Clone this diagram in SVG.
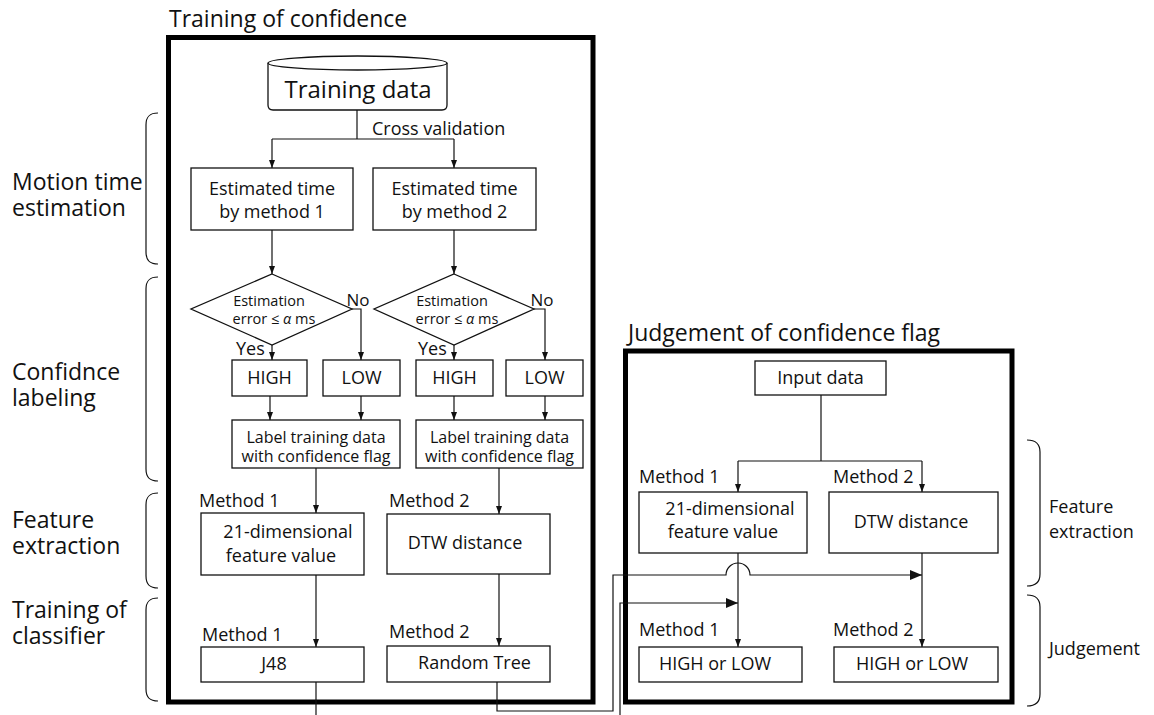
<svg xmlns="http://www.w3.org/2000/svg" width="1154" height="715" viewBox="0 0 1154 715">
<defs>
<style>
text{font-family:"Open Sans","Noto Sans","DejaVu Sans",sans-serif;fill:#111}
.t23{font-size:23px}
.t18{font-size:18px}
.t16{font-size:16px}
.t14{font-size:14.5px}
.c{text-anchor:middle}
.box{fill:#fff;stroke:#111;stroke-width:1.3}
.frame{fill:none;stroke:#000;stroke-width:5}
.ln{fill:none;stroke:#111;stroke-width:1.2}
.br{fill:none;stroke:#111;stroke-width:1.2}
</style>
<marker id="ah" viewBox="0 0 8 6" refX="8" refY="3" markerWidth="8" markerHeight="6" markerUnits="userSpaceOnUse" orient="auto">
<path d="M0,0 L8,3 L0,6 Z" fill="#111"/>
</marker>
<marker id="ahb" viewBox="0 0 12 10" refX="12" refY="5" markerWidth="12" markerHeight="10" markerUnits="userSpaceOnUse" orient="auto">
<path d="M0,0 L12,5 L0,10 Z" fill="#111"/>
</marker>
</defs>
<rect width="1154" height="715" fill="#fff"/>

<!-- Frames and titles -->
<g id="training-frame">
<text class="t23" x="169" y="27">Training of confidence</text>
<rect class="frame" x="168.5" y="37.5" width="424.5" height="664.5"/>
</g>
<g id="judgement-frame">
<text class="t23" x="628" y="341">Judgement of confidence flag</text>
<rect class="frame" x="625.5" y="351" width="386.5" height="351"/>
</g>

<!-- Left side stage labels -->
<g id="stage-motion">
<path class="br" d="M158,113 C150,113 146,116 146,125 L146,252 C146,261 150,264 158,264"/>
<text class="t23" x="12" y="190">Motion time</text>
<text class="t23" x="12" y="216">estimation</text>
</g>
<g id="stage-labeling">
<path class="br" d="M158,277 C150,277 146,280 146,289 L146,469 C146,478 150,481 158,481"/>
<text class="t23" x="12" y="380">Confidnce</text>
<text class="t23" x="12" y="406">labeling</text>
</g>
<g id="stage-feature">
<path class="br" d="M158,493 C150,493 146,496 146,505 L146,576 C146,585 150,588 158,588"/>
<text class="t23" x="12" y="528">Feature</text>
<text class="t23" x="12" y="554">extraction</text>
</g>
<g id="stage-classifier">
<path class="br" d="M158,598 C150,598 146,601 146,610 L146,689 C146,698 150,701 158,701"/>
<text class="t23" x="12" y="618">Training of</text>
<text class="t23" x="12" y="644">classifier</text>
</g>

<!-- Right side stage labels -->
<g id="stage-r-feature">
<path class="br" d="M1027,440 C1035,440 1040,443 1040,452 L1040,574 C1040,583 1035,586 1027,586"/>
<text class="t18" x="1049" y="513">Feature</text>
<text class="t18" x="1049" y="538">extraction</text>
</g>
<g id="stage-r-judgement">
<path class="br" d="M1027,595 C1035,595 1040,598 1040,607 L1040,694 C1040,703 1035,706 1027,706"/>
<text class="t18" x="1049" y="655">Judgement</text>
</g>

<!-- Connectors -->
<g id="connectors">
<path class="ln" d="M357,110 V139"/>
<path class="ln" d="M272,139 H454"/>
<path class="ln" d="M272,139 V168" marker-end="url(#ah)"/>
<path class="ln" d="M454,139 V168" marker-end="url(#ah)"/>
<path class="ln" d="M272,230 V274" marker-end="url(#ah)"/>
<path class="ln" d="M454,230 V274" marker-end="url(#ah)"/>
<path class="ln" d="M272,345 V360" marker-end="url(#ah)"/>
<path class="ln" d="M352,309 H361 V360" marker-end="url(#ah)"/>
<path class="ln" d="M454,345 V360" marker-end="url(#ah)"/>
<path class="ln" d="M534,309 H545 V360" marker-end="url(#ah)"/>
<path class="ln" d="M270,396 V420" marker-end="url(#ah)"/>
<path class="ln" d="M361,396 V420" marker-end="url(#ah)"/>
<path class="ln" d="M454,396 V420" marker-end="url(#ah)"/>
<path class="ln" d="M545,396 V420" marker-end="url(#ah)"/>
<path class="ln" d="M316,468 V513" marker-end="url(#ah)"/>
<path class="ln" d="M499,468 V514" marker-end="url(#ah)"/>
<path class="ln" d="M316,575 V647" marker-end="url(#ah)"/>
<path class="ln" d="M499,574 V646" marker-end="url(#ah)"/>
<path class="ln" d="M316,682 V715"/>
<path class="ln" d="M497,682 V711 H613 V575 H726 A12,12 0 0 1 750,575 H922" marker-end="url(#ahb)"/>
<path class="ln" d="M620,715 V603 H738" marker-end="url(#ahb)"/>
<path class="ln" d="M821,395 V461"/>
<path class="ln" d="M738,461 H922"/>
<path class="ln" d="M738,461 V492" marker-end="url(#ah)"/>
<path class="ln" d="M922,461 V492" marker-end="url(#ah)"/>
<path class="ln" d="M738,553 V647" marker-end="url(#ah)"/>
<path class="ln" d="M922,553 V647" marker-end="url(#ah)"/>
</g>

<!-- Training nodes -->
<g id="training-data">
<path class="box" d="M268,63 V105 Q268,110 273,110 H442 Q447,110 447,105 V63"/>
<ellipse class="box" cx="357.5" cy="63" rx="89.5" ry="7"/>
<text class="c" x="358" y="98" style="font-size:24px">Training data</text>
</g>
<text class="t18" x="372" y="135">Cross validation</text>

<g id="est1">
<rect class="box" x="191" y="168" width="162" height="62"/>
<text class="t18 c" x="272" y="195">Estimated time</text>
<text class="t18 c" x="272" y="218">by method 1</text>
</g>
<g id="est2">
<rect class="box" x="373" y="168" width="163" height="62"/>
<text class="t18 c" x="454.5" y="195">Estimated time</text>
<text class="t18 c" x="454.5" y="218">by method 2</text>
</g>

<g id="dec1">
<polygon class="box" points="272,274 352,309 272,345 191,309"/>
<text class="t14 c" x="269" y="306">Estimation</text>
<text class="t14 c" x="274" y="324">error ≤ <tspan font-style="italic">α</tspan> ms</text>
<text class="c" x="358" y="306" style="font-size:17px">No</text>
<text class="t18" x="236" y="355">Yes</text>
</g>
<g id="dec2">
<polygon class="box" points="454,274 534,309 454,345 374,309"/>
<text class="t14 c" x="452" y="306">Estimation</text>
<text class="t14 c" x="457" y="324">error ≤ <tspan font-style="italic">α</tspan> ms</text>
<text class="c" x="542" y="306" style="font-size:17px">No</text>
<text class="t18" x="418" y="355">Yes</text>
</g>

<g id="high1"><rect class="box" x="232" y="360" width="75" height="36"/><text class="t18 c" x="269.5" y="384">HIGH</text></g>
<g id="low1"><rect class="box" x="323" y="360" width="77" height="36"/><text class="t18 c" x="361.5" y="384">LOW</text></g>
<g id="high2"><rect class="box" x="416" y="360" width="77" height="36"/><text class="t18 c" x="454.5" y="384">HIGH</text></g>
<g id="low2"><rect class="box" x="506" y="360" width="77" height="36"/><text class="t18 c" x="544.5" y="384">LOW</text></g>

<g id="label1">
<rect class="box" x="232" y="420" width="168" height="48"/>
<text class="t16 c" x="316" y="443">Label training data</text>
<text class="t16 c" x="316" y="462">with confidence flag</text>
</g>
<g id="label2">
<rect class="box" x="416" y="420" width="167" height="48"/>
<text class="t16 c" x="499.5" y="443">Label training data</text>
<text class="t16 c" x="499.5" y="462">with confidence flag</text>
</g>

<g id="feat1">
<text class="t18" x="199" y="507">Method 1</text>
<rect class="box" x="201" y="513" width="163" height="62"/>
<text class="t18 c" x="288" y="538">21-dimensional</text>
<text class="t18 c" x="281" y="562">feature value</text>
</g>
<g id="feat2">
<text class="t18" x="389" y="507">Method 2</text>
<rect class="box" x="387" y="514" width="163" height="60"/>
<text class="t18 c" x="465" y="549">DTW distance</text>
</g>

<g id="j48">
<text class="t18" x="202" y="641">Method 1</text>
<rect class="box" x="201" y="647" width="163" height="35"/>
<text class="t18 c" x="274" y="670">J48</text>
</g>
<g id="rtree">
<text class="t18" x="389" y="638">Method 2</text>
<rect class="box" x="387" y="646" width="163" height="36"/>
<text class="t18 c" x="474.5" y="669">Random Tree</text>
</g>

<!-- Judgement nodes -->
<g id="input-data">
<rect class="box" x="755" y="361" width="131" height="34"/>
<text class="t18 c" x="820.5" y="384">Input data</text>
</g>
<g id="jfeat1">
<text class="t18" x="639" y="483">Method 1</text>
<rect class="box" x="639" y="492" width="168" height="61"/>
<text class="t18 c" x="730" y="515">21-dimensional</text>
<text class="t18 c" x="723" y="538">feature value</text>
</g>
<g id="jfeat2">
<text class="t18" x="833" y="483">Method 2</text>
<rect class="box" x="829" y="492" width="169" height="61"/>
<text class="t18 c" x="911" y="528">DTW distance</text>
</g>
<g id="jres1">
<text class="t18" x="639" y="636">Method 1</text>
<rect class="box" x="639" y="647" width="163" height="35"/>
<text class="t18 c" x="715" y="670">HIGH or LOW</text>
</g>
<g id="jres2">
<text class="t18" x="833" y="636">Method 2</text>
<rect class="box" x="834" y="647" width="164" height="35"/>
<text class="t18 c" x="912" y="670">HIGH or LOW</text>
</g>
</svg>
